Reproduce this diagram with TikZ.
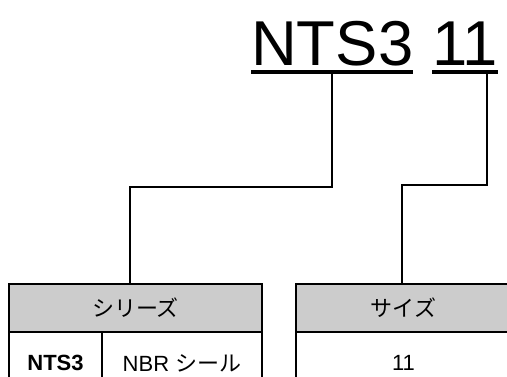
\documentclass[tikz,border=0pt]{standalone}
\usepackage{fontspec}
\setmainfont{Liberation Sans}
\newfontfamily\cjk{Noto Sans CJK JP}
\definecolor{hdrgray}{RGB}{204,204,204}
\begin{document}
\begin{tikzpicture}[x=1pt,y=-1pt,
  titletext/.style={anchor=base west,inner sep=0pt,font=\fontsize{63.4}{70}\selectfont},
  ul/.style={line width=4.5pt},
  conn/.style={line width=1.3pt},
  hdr/.style={draw,line width=2pt,fill=hdrgray,anchor=north west,inner sep=0pt,
    minimum height=48pt,font=\fontsize{22}{26}\selectfont\cjk},
  cell/.style={draw,line width=2pt,anchor=north west,inner sep=0pt,
    minimum height=62pt,font=\fontsize{22}{26}\selectfont}]
\useasboundingbox (0,0) rectangle (507,376);
\clip (0,0) rectangle (507,376);
% title
\node[titletext] (t1) at (251,65) {NTS3};
\node[titletext] (t2) at (432,65) {11};
\draw[ul] ([yshift=-7pt]t1.base west) -- ([yshift=-7pt]t1.base east);
\draw[ul] ([yshift=-7pt]t2.base west) -- ([yshift=-7pt]t2.base east);
\coordinate (s1) at (332,74);
\coordinate (s2) at (487,74);
% tables
\node[hdr,minimum width=253pt] (h1) at (8,283) {シリーズ};
\node[cell,minimum width=93pt,font=\fontsize{22}{26}\selectfont\bfseries] (c1) at (8,331) {NTS3};
\node[cell,minimum width=160pt] (c2) at (101,331) {NBR {\cjk シール}};
\node[hdr,minimum width=215pt] (h2) at (295,283) {サイズ};
\node[cell,minimum width=215pt] (c3) at (295,331) {11};
% connectors
\coordinate (k1) at (130,187);
\coordinate (k2) at (402,185);
\draw[conn] (s1) -- (s1 |- k1) -- (k1) -- (k1 |- h1.north);
\draw[conn] (s2) -- (s2 |- k2) -- (k2) -- (k2 |- h2.north);
\end{tikzpicture}
\end{document}
